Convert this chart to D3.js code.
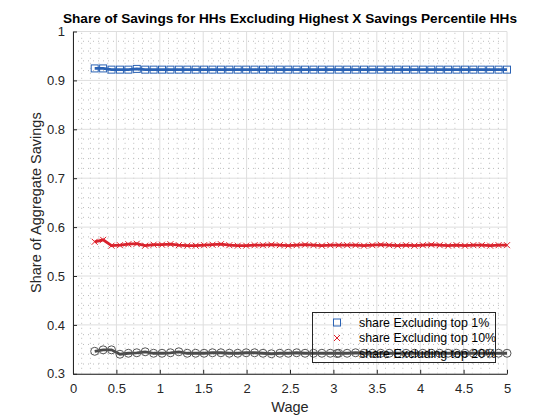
<!DOCTYPE html>
<html>
<head>
<meta charset="utf-8">
<script src="https://cdn.jsdelivr.net/npm/d3@7"></script>
<style>
  body { margin: 0; background: #fff; }
  svg { font-family: "Liberation Sans", Arial, sans-serif; }
</style>
</head>
<body>
<div id="chart"></div>
<script>
// wage grid: 50 points from 0.25 to 5
const wage = d3.range(50).map(i => 0.25 + i * 4.75 / 49);

const shareTop1 = [0.9245, 0.9245, 0.922, 0.922, 0.922, 0.9235, 0.922, 0.922, 0.922, 0.922,
                   0.922, 0.922, 0.922, 0.922, 0.922, 0.922, 0.922, 0.922, 0.922, 0.922,
                   0.922, 0.922, 0.922, 0.922, 0.922, 0.922, 0.922, 0.922, 0.922, 0.922,
                   0.922, 0.922, 0.922, 0.922, 0.922, 0.922, 0.922, 0.922, 0.922, 0.922,
                   0.922, 0.922, 0.922, 0.922, 0.922, 0.922, 0.922, 0.922, 0.922, 0.922];
const shareTop10 = [0.570, 0.574, 0.562, 0.563, 0.565, 0.566, 0.562, 0.564, 0.564, 0.565,
                    0.563, 0.562, 0.562, 0.563, 0.564, 0.565, 0.563, 0.562, 0.562, 0.563,
                    0.563, 0.564, 0.563, 0.562, 0.563, 0.564, 0.563, 0.562, 0.563, 0.563,
                    0.563, 0.563, 0.562, 0.563, 0.564, 0.563, 0.562, 0.563, 0.562, 0.563,
                    0.564, 0.563, 0.562, 0.563, 0.562, 0.563, 0.563, 0.562, 0.563, 0.563];
const shareTop20 = [0.346, 0.349, 0.349, 0.340, 0.342, 0.343, 0.345, 0.342, 0.342, 0.343,
                    0.345, 0.342, 0.342, 0.342, 0.343, 0.343, 0.342, 0.342, 0.343, 0.343,
                    0.342, 0.341, 0.342, 0.342, 0.343, 0.342, 0.342, 0.342, 0.342, 0.342,
                    0.342, 0.343, 0.342, 0.342, 0.342, 0.342, 0.342, 0.342, 0.342, 0.342,
                    0.342, 0.342, 0.342, 0.342, 0.342, 0.342, 0.342, 0.342, 0.342, 0.342];

const seriesNames = ["share Excluding top 1%", "share Excluding top 10%", "share Excluding top 20%"];
const xTicks = [0, 0.5, 1, 1.5, 2, 2.5, 3, 3.5, 4, 4.5, 5];
const yTicks = [0.3, 0.4, 0.5, 0.6, 0.7, 0.8, 0.9, 1];

const width = 560, height = 420;
const margin = {top: 31.5, right: 53, bottom: 46.2, left: 73};

const svg = d3.select("#chart").append("svg")
    .attr("width", width).attr("height", height);

const x = d3.scaleLinear().domain([0, 5]).range([margin.left, width - margin.right]);
const y = d3.scaleLinear().domain([0.3, 1]).range([height - margin.bottom, margin.top]);

const g = svg.append("g");

// minor grid (dotted)
g.append("g").selectAll("line")
    .data(d3.range(0, 5.0001, 0.1).filter(v => Math.abs(v * 2 - Math.round(v * 2)) > 1e-6))
    .enter().append("line")
    .attr("x1", d => x(d)).attr("x2", d => x(d))
    .attr("y1", y(0.3)).attr("y2", y(1))
    .style("stroke", "#bdbdbd").style("stroke-width", 1)
    .style("stroke-dasharray", "1,4");
g.append("g").selectAll("line")
    .data(d3.range(0.3, 1.0001, 0.02).filter(v => Math.abs(v * 10 - Math.round(v * 10)) > 1e-6))
    .enter().append("line")
    .attr("x1", x(0)).attr("x2", x(5))
    .attr("y1", d => y(d)).attr("y2", d => y(d))
    .style("stroke", "#bdbdbd").style("stroke-width", 1)
    .style("stroke-dasharray", "1,4");

// major grid
g.append("g").selectAll("line").data(xTicks).enter().append("line")
    .attr("x1", d => x(d)).attr("x2", d => x(d))
    .attr("y1", y(0.3)).attr("y2", y(1))
    .style("stroke", "#dedede").style("stroke-width", 1);
g.append("g").selectAll("line").data(yTicks).enter().append("line")
    .attr("x1", x(0)).attr("x2", x(5))
    .attr("y1", d => y(d)).attr("y2", d => y(d))
    .style("stroke", "#dedede").style("stroke-width", 1);

// axes
const xAxis = svg.append("g")
    .attr("transform", `translate(0,${y(0.3)})`)
    .call(d3.axisBottom(x).tickValues(xTicks).tickFormat(d3.format("")).tickSizeInner(-4).tickSizeOuter(0).tickPadding(10));
const yAxis = svg.append("g")
    .attr("transform", `translate(${x(0)},0)`)
    .call(d3.axisLeft(y).tickValues(yTicks).tickFormat(d3.format("")).tickSizeInner(-4).tickSizeOuter(0).tickPadding(8));
[xAxis, yAxis].forEach(a => {
    a.selectAll("path, line").style("stroke", "#262626");
    a.selectAll("text").style("fill", "#262626").style("font-size", "13px")
        .style("font-family", "Liberation Sans, Arial, sans-serif");
});

// series
const colors = ["#2a62b4", "#d7232d", "#4a4a4a"];
const allSeries = [shareTop1, shareTop10, shareTop20];
const line = d3.line().x((d, i) => x(wage[i])).y(d => y(d));

allSeries.forEach((s, k) => {
    svg.append("path").datum(s)
        .attr("d", line)
        .style("fill", "none")
        .style("stroke", colors[k])
        .style("stroke-width", 2.8);
});

function marker(sel, k, cx, cy) {
    if (k === 0) {
        sel.append("rect").attr("x", cx - 3.5).attr("y", cy - 3.5)
            .attr("width", 7).attr("height", 7)
            .style("fill", "none").style("stroke", "#2a62b4").style("stroke-width", 1);
    } else if (k === 1) {
        sel.append("path")
            .attr("d", `M${cx - 3},${cy - 3}L${cx + 3},${cy + 3}M${cx - 3},${cy + 3}L${cx + 3},${cy - 3}`)
            .style("stroke", "#e0202a").style("stroke-width", 1);
    } else {
        sel.append("circle").attr("cx", cx).attr("cy", cy).attr("r", 4)
            .style("fill", "none").style("stroke", "#555").style("stroke-width", 1);
    }
}

allSeries.forEach((s, k) => {
    const mg = svg.append("g");
    s.forEach((v, i) => marker(mg, k, x(wage[i]), y(v)));
});

// title and labels
svg.append("text")
    .attr("x", x(2.5)).attr("y", 23)
    .attr("text-anchor", "middle")
    .style("font-weight", "bold").style("font-size", "13.6px").style("fill", "#000")
    .text("Share of Savings for HHs Excluding Highest X Savings Percentile HHs");
svg.append("text")
    .attr("x", x(2.5)).attr("y", 412)
    .attr("text-anchor", "middle")
    .style("font-size", "14.5px").style("fill", "#262626")
    .text("Wage");
svg.append("text")
    .attr("transform", `translate(41,${y(0.65)}) rotate(-90)`)
    .attr("text-anchor", "middle")
    .style("font-size", "14.5px").style("fill", "#262626")
    .text("Share of Aggregate Savings");

// legend (transparent background)
const lg = svg.append("g");
lg.append("rect")
    .attr("x", 312.5).attr("y", 312.5).attr("width", 183).attr("height", 50)
    .style("fill", "none").style("stroke", "#262626").style("stroke-width", 1);
seriesNames.forEach((name, k) => {
    const cy = 322.5 + k * 15.5;
    marker(lg, k, 337, cy);
    lg.append("text").attr("x", 359).attr("y", cy + 4)
        .style("font-size", "12.4px").style("fill", "#000")
        .text(name);
});
</script>
</body>
</html>
